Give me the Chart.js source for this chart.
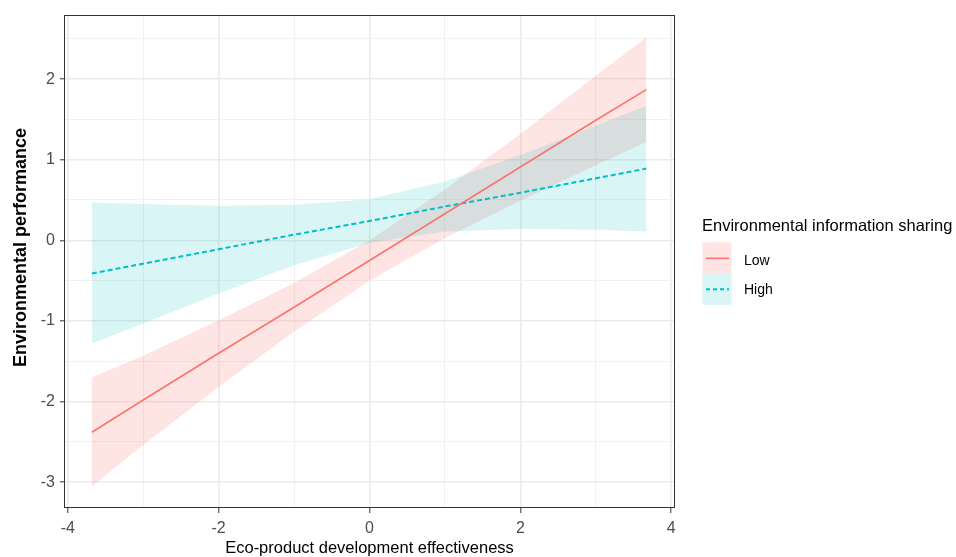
<!DOCTYPE html>
<html>
<head>
<meta charset="utf-8">
<script src="https://cdn.jsdelivr.net/npm/chart.js@4.4.1/dist/chart.umd.min.js"></script>
<style>
  html, body { margin: 0; padding: 0; background: #ffffff; }
  #wrap { position: relative; width: 956px; height: 557px; }
</style>
</head>
<body>
<div id="wrap"><canvas id="c" width="956" height="557"></canvas></div>
<script>
// ---- data ----
const xValues   = [-3.68, -3, -2, -1, 0, 1, 2, 3, 3.67];
const lowFit    = [-2.38, -1.98, -1.40, -0.83, -0.25, 0.33, 0.91, 1.49, 1.87];
const lowUpper  = [-1.70, -1.43, -0.99, -0.53, 0.00, 0.63, 1.32, 2.04, 2.52];
const lowLower  = [-3.05, -2.54, -1.82, -1.13, -0.50, 0.03, 0.49, 0.93, 1.22];
const highFit   = [-0.41, -0.29, -0.11, 0.07, 0.24, 0.42, 0.59, 0.77, 0.89];
const highUpper = [0.47, 0.45, 0.43, 0.44, 0.51, 0.73, 1.06, 1.42, 1.67];
const highLower = [-1.28, -1.03, -0.66, -0.31, -0.03, 0.11, 0.14, 0.13, 0.11];

const seriesNames = ['Low', 'High'];
const legendTitle = 'Environmental information sharing';
const xTitle = 'Eco-product development effectiveness';
const yTitle = 'Environmental performance';

const xMajorTicks = [-4, -2, 0, 2, 4];
const xMinorTicks = [-3, -1, 1, 3];
const yMajorTicks = [-3, -2, -1, 0, 1, 2];
const yMinorTicks = [-2.5, -1.5, -0.5, 0.5, 1.5, 2.5];
const xLimits = [-4.05, 4.05];
const yLimits = [-3.32, 2.80];

// ---- styling ----
const RED = '#F8766D';
const TEAL = '#00BFC4';
const RED_FILL = 'rgba(248,118,109,0.2)';
const TEAL_FILL = 'rgba(0,191,196,0.15)';
const FONT = '"Liberation Sans", Arial, Helvetica, sans-serif';

const pts = arr => xValues.map((x, i) => ({ x: x, y: arr[i] }));

const bandStyle = { borderWidth: 0, pointRadius: 0, pointHoverRadius: 0, tension: 0 };

const datasets = [
  { label: seriesNames[0], data: pts(lowFit), borderColor: RED, borderWidth: 1.6,
    pointRadius: 0, fill: false, tension: 0 },
  { label: seriesNames[1], data: pts(highFit), borderColor: TEAL, borderWidth: 2,
    borderDash: [5, 3], pointRadius: 0, fill: false, tension: 0 },
  Object.assign({ label: 'High upper', data: pts(highUpper), fill: '+1', backgroundColor: TEAL_FILL, borderColor: 'rgba(0,0,0,0)' }, bandStyle),
  Object.assign({ label: 'High lower', data: pts(highLower), fill: false, borderColor: 'rgba(0,0,0,0)' }, bandStyle),
  Object.assign({ label: 'Low upper', data: pts(lowUpper), fill: '+1', backgroundColor: RED_FILL, borderColor: 'rgba(0,0,0,0)' }, bandStyle),
  Object.assign({ label: 'Low lower', data: pts(lowLower), fill: false, borderColor: 'rgba(0,0,0,0)' }, bandStyle)
];

const xTickVals = xMajorTicks.concat(xMinorTicks).sort((a, b) => a - b);
const yTickVals = yMajorTicks.concat(yMinorTicks).sort((a, b) => a - b);

const decorPlugin = {
  id: 'decor',
  afterDraw(chart) {
    const ctx = chart.ctx;
    const a = chart.chartArea;
    ctx.save();
    // panel border
    ctx.strokeStyle = '#333333';
    ctx.lineWidth = 1;
    ctx.strokeRect(Math.round(a.left) + 0.5, Math.round(a.top) + 0.5,
                   Math.round(a.right - a.left) - 1, Math.round(a.bottom - a.top) - 1);

    // y axis title
    ctx.save();
    ctx.translate(21, 247.5);
    ctx.rotate(-Math.PI / 2);
    ctx.font = 'bold 18px ' + FONT;
    ctx.fillStyle = '#000000';
    ctx.textAlign = 'center';
    ctx.textBaseline = 'middle';
    ctx.fillText(yTitle, 0, 0);
    ctx.restore();

    // legend
    const lx = 702.5;
    ctx.fillStyle = '#000000';
    ctx.font = '16.5px ' + FONT;
    ctx.textAlign = 'left';
    ctx.textBaseline = 'alphabetic';
    ctx.fillText(legendTitle, 702, 230.7);

    ctx.fillStyle = RED_FILL;
    ctx.fillRect(lx, 242.3, 29, 31);
    ctx.fillStyle = TEAL_FILL;
    ctx.fillRect(lx, 273.3, 29, 31.5);

    ctx.strokeStyle = RED;
    ctx.lineWidth = 1.6;
    ctx.setLineDash([]);
    ctx.beginPath(); ctx.moveTo(706, 258.3); ctx.lineTo(729, 258.3); ctx.stroke();

    ctx.strokeStyle = TEAL;
    ctx.lineWidth = 2;
    ctx.setLineDash([4, 3]);
    ctx.beginPath(); ctx.moveTo(706, 289.3); ctx.lineTo(729, 289.3); ctx.stroke();
    ctx.setLineDash([]);

    ctx.fillStyle = '#000000';
    ctx.font = '14px ' + FONT;
    ctx.fillText(seriesNames[0], 744, 264.5);
    ctx.fillText(seriesNames[1], 744, 294);
    ctx.restore();
  }
};

const gridColor = isMajor => isMajor ? '#ebebeb' : '#f1f1f1';

new Chart(document.getElementById('c'), {
  type: 'line',
  data: { datasets: datasets },
  options: {
    responsive: false,
    devicePixelRatio: 1,
    animation: false,
    events: [],
    layout: { padding: { left: 0, top: 13, right: 281, bottom: 0 } },
    plugins: {
      legend: { display: false },
      tooltip: { enabled: false },
      filler: { drawTime: 'beforeDatasetsDraw', propagate: false }
    },
    scales: {
      x: {
        type: 'linear',
        min: xLimits[0], max: xLimits[1],
        afterBuildTicks: s => { s.ticks = xTickVals.map(v => ({ value: v })); },
        afterFit: s => { s.height = 49; },
        border: { display: false },
        grid: {
          color: c => gridColor(xMajorTicks.includes(c.tick.value)),
          lineWidth: c => xMajorTicks.includes(c.tick.value) ? 1.6 : 1.1,
          tickColor: c => xMajorTicks.includes(c.tick.value) ? '#333333' : 'rgba(0,0,0,0)',
          tickLength: 5,
          tickWidth: 1
        },
        ticks: {
          autoSkip: false,
          maxRotation: 0,
          includeBounds: false,
          padding: 5.5,
          color: '#4d4d4d',
          font: { family: FONT, size: 16 },
          callback: v => xMajorTicks.includes(v) ? String(v) : ''
        },
        title: {
          display: true,
          text: xTitle,
          color: '#000000',
          font: { family: FONT, size: 16.5, lineHeight: 1 },
          padding: { top: 0, bottom: 0 }
        }
      },
      y: {
        type: 'linear',
        min: yLimits[0], max: yLimits[1],
        afterBuildTicks: s => { s.ticks = yTickVals.map(v => ({ value: v })); },
        afterFit: s => { s.width = 64; },
        border: { display: false },
        grid: {
          color: c => gridColor(yMajorTicks.includes(c.tick.value)),
          lineWidth: c => yMajorTicks.includes(c.tick.value) ? 1.6 : 1.1,
          tickColor: c => yMajorTicks.includes(c.tick.value) ? '#333333' : 'rgba(0,0,0,0)',
          tickLength: 4,
          tickWidth: 1
        },
        ticks: {
          autoSkip: false,
          includeBounds: false,
          padding: 5,
          color: '#4d4d4d',
          font: { family: FONT, size: 16 },
          callback: v => yMajorTicks.includes(v) ? String(v) : ''
        }
      }
    }
  },
  plugins: [decorPlugin]
});
</script>
</body>
</html>
